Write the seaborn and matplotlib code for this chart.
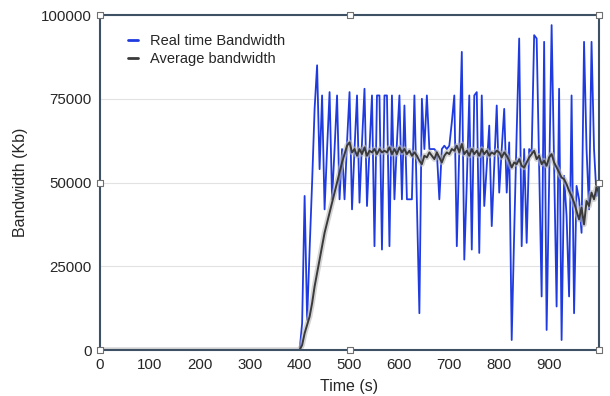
import matplotlib
matplotlib.use('Agg')
import matplotlib.pyplot as plt
import numpy as np
import pandas as pd
import seaborn as sns

# pomiary co 5 s od 400 s (wcześniej przepustowość = 0)
realtime_kb = [
    0, 8000, 46000, 9000, 30000, 50000, 72000, 85000, 54000, 76000,
    42000, 60000, 77000, 45000, 60000, 76000, 45000, 60000, 45000, 62000,
    77000, 42000, 60000, 76000, 44000, 62000, 78000, 43000, 60000, 76000,
    31000, 76000, 76000, 30000, 76000, 76000, 31000, 76000, 45000, 62000,
    76000, 45000, 73000, 45000, 45000, 45000, 76000, 44000, 11000, 75000,
    60000, 76000, 60000, 60000, 60000, 59000, 45000, 60000, 61000, 60000,
    61000, 68000, 76000, 31000, 60000, 89000, 27000, 50000, 76000, 30000,
    76000, 77000, 29000, 76000, 43000, 55000, 67000, 37000, 55000, 73000,
    47000, 60000, 72000, 47000, 62000, 3000, 35000, 65000, 93000, 31000,
    60000, 32000, 60000, 59000, 94000, 93000, 55000, 16000, 92000, 6000,
    50000, 97000, 55000, 13000, 78000, 3000, 52000, 40000, 16000, 76000,
    11000, 49000, 45000, 35000, 92000, 60000, 42000, 92000, 60000, 46000,
    50000,
]

average_kb = [
    0, 1500, 5000, 7500, 10000, 14000, 19000, 23000, 27000, 31000,
    35000, 38000, 41000, 44000, 47000, 50000, 53000, 56000, 58500, 61000,
    62000, 59000, 60000, 58000, 60000, 58500, 60500, 58000, 59500, 59000,
    60000, 58500, 60000, 59000, 59500, 59000, 60500, 58500, 60000, 58500,
    60500, 59000, 60000, 58500, 59500, 58000, 59000, 58000, 56500, 55500,
    58000, 57500, 59000, 58000, 57000, 59000, 57500, 56000, 58000, 59000,
    58500, 60000, 59500, 61000, 59000, 61500, 58500, 59500, 58000, 60000,
    58500, 59500, 58000, 60000, 58500, 59500, 58000, 59000, 58500, 59500,
    59000, 57500, 59000, 58000, 56500, 54500, 56000, 55500, 57000, 55000,
    54500, 56000, 57500, 58500, 59500, 57000, 58000, 55500, 56500, 55000,
    57500, 58500, 56000, 54500, 53000, 51500, 51000, 49500, 47500, 46000,
    44000, 41500, 39000, 42500, 37500, 44500, 43000, 47000, 45000, 48500,
    47000,
]

x_ticks = [0, 100, 200, 300, 400, 500, 600, 700, 800, 900]
y_ticks = [0, 25000, 50000, 75000, 100000]

t_real = np.concatenate([[0], np.arange(400, 400 + 5 * len(realtime_kb), 5)])
t_avg = np.concatenate([[0], np.arange(400, 400 + 5 * len(average_kb), 5)])
df_real = pd.DataFrame({'t': t_real, 'bw': [0] + realtime_kb})
df_avg = pd.DataFrame({'t': t_avg, 'bw': [0] + average_kb})

sns.set_style('white')
plt.rcParams['font.family'] = ['Liberation Sans', 'DejaVu Sans']

fig = plt.figure(figsize=(6.1, 3.96), dpi=100)
ax = fig.add_axes([0.164, 0.116, 0.818, 0.846])

ax.grid(axis='y', color='#e2e2e2', linewidth=0.8)
ax.set_axisbelow(True)

sns.lineplot(data=df_real, x='t', y='bw', ax=ax, color='#1f3be0',
             linewidth=1.3, label='Real time Bandwidth')
# cień pod średnią
sns.lineplot(data=df_avg, x='t', y='bw', ax=ax, color='#b8b8b8',
             linewidth=4, alpha=0.6, legend=False)
sns.lineplot(data=df_avg, x='t', y='bw', ax=ax, color='#3a3a3a',
             linewidth=1.4, label='Average bandwidth')

ax.set_xlim(0, 1000)
ax.set_ylim(0, 100000)
ax.set_xticks(x_ticks)
ax.set_yticks(y_ticks)
ax.tick_params(length=0, labelsize=10.8, pad=6)
ax.set_xlabel('Time (s)', fontsize=11.5, labelpad=5)
ax.set_ylabel('Bandwidth (Kb)', fontsize=11.5, labelpad=9)

for s in ax.spines.values():
    s.set_color('#3e5064')
    s.set_linewidth(1.5)

# uchwyty zaznaczenia
hx = [0, 500, 1000, 0, 1000, 0, 500, 1000]
hy = [0, 0, 0, 50000, 50000, 100000, 100000, 100000]
ax.scatter(hx, hy, marker='s', s=22, facecolor='white', edgecolor='#707070',
           linewidth=0.8, clip_on=False, zorder=10)

leg = ax.legend(loc='upper left', frameon=False, fontsize=10.5,
                handlelength=0.7, handletextpad=0.8, borderaxespad=0.3,
                bbox_to_anchor=(0.035, 0.975), labelspacing=0.3)
for line in leg.get_lines():
    line.set_linewidth(2)

fig.savefig('out.png', dpi=100)
